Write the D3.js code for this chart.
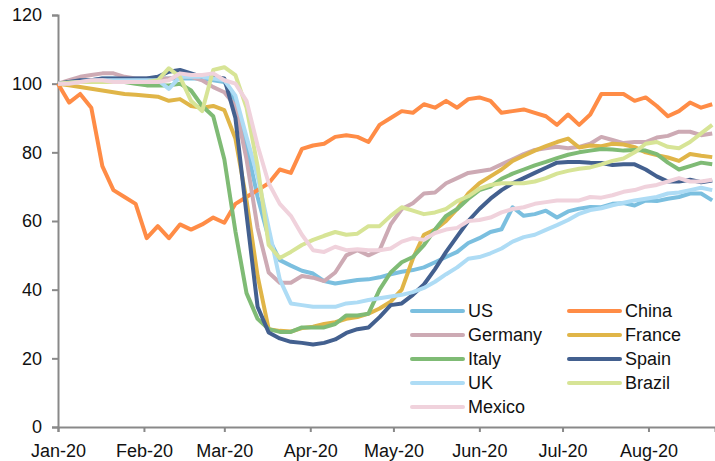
<!DOCTYPE html>
<html>
<head>
<meta charset="utf-8">
<script src="https://cdn.jsdelivr.net/npm/d3@7"></script>
<style>
  body { margin: 0; background: #fff; }
  svg { display: block; font-family: "Liberation Sans", Arial, sans-serif; }
</style>
</head>
<body>
<div id="chart-main"></div>
<script>
// Dates: one sample every 4 days from 1 Jan 2020 (60 samples, last = 24 Aug)
var startDate = new Date(2020, 0, 1),
    endDate = new Date(2020, 7, 25);
var dates = d3.timeDay.range(startDate, endDate, 4);

// Month tick labels
var monthTicks = ["Jan-20", "Feb-20", "Mar-20", "Apr-20", "May-20", "Jun-20", "Jul-20", "Aug-20"];
var yTicks = [0, 20, 40, 60, 80, 100, 120];

// Series names (legend / draw order)
var seriesNames = ["US", "China", "Germany", "France", "Italy", "Spain", "UK", "Brazil", "Mexico"];

// Values (index, 1 Jan 2020 = 100)
var us = [100, 100.5, 101, 101, 101.5, 101.5, 101.5, 101.5, 101.5, 101.5,
  101.5, 101.5, 101.5, 101.5, 101, 100.5, 95, 82, 67, 55,
  48.6, 47, 45.5, 44.7, 42.5, 41.8, 42.3, 42.8, 43, 43.6,
  44.5, 45.2, 45.7, 46.5, 48, 49.5, 51, 53.6, 55, 56.8,
  57.6, 64, 61.5, 62, 63, 61, 62.8, 63.6, 64.1, 64,
  65, 65.2, 64.5, 66, 65.8, 66.5, 67, 68, 68, 66];
var china = [100, 94.5, 97, 93, 76, 69, 67, 65, 55, 58.5,
  55, 59, 57.5, 59, 61, 59.5, 65, 67, 69, 71,
  75, 74, 81, 82, 82.5, 84.5, 85, 84.5, 83, 88,
  90, 92, 91.5, 94, 93, 95, 93, 95.5, 96, 95,
  91.5, 92, 92.5, 91.5, 90.5, 88, 91, 88, 91, 97,
  97, 97, 95, 96, 93.5, 90.5, 92, 94.5, 93, 94];
var germany = [100, 101, 102, 102.5, 103, 103, 102, 101.5, 101.5, 101.5,
  101.5, 102, 102, 101, 99, 97.5, 93.5, 78, 58, 45,
  42, 42, 44, 43.5, 42.5, 45, 50, 51.5, 50, 51.5,
  59, 63.5, 65.2, 68, 68.3, 71, 72.5, 74, 74.5, 75,
  76.5, 78, 79.5, 80.7, 81.2, 81.6, 81.2, 81.6, 82.5, 84.5,
  83.6, 82.7, 83, 83, 84.3, 84.8, 86, 86, 85, 85.5];
var france = [100, 99.5, 99, 98.5, 98, 97.5, 97, 96.8, 96.5, 96.2,
  95, 95.5, 93.5, 93, 93.5, 92.3, 84, 66, 44, 28.5,
  28, 27.8, 28.8, 29.2, 30, 30.5, 31.5, 32, 33, 34.5,
  36.5, 40, 49, 56, 57.5, 60, 63.5, 68, 71, 73,
  75, 77.5, 79, 80.5, 81.8, 83, 84, 81.4, 82, 81.8,
  82.5, 82.3, 81.5, 80, 79.2, 78.5, 77.5, 79.5, 79, 78.6];
var italy = [100, 100.5, 100.5, 100.5, 100.5, 100.5, 100.5, 100, 99.5, 99.5,
  99.5, 100, 98, 93.5, 90.5, 78, 57, 39, 31.5, 28.5,
  27.7, 27.7, 29, 29, 29, 30, 32.5, 32.5, 33, 40,
  45, 48, 49.5, 53, 57.5, 61.5, 63.5, 66.5, 69, 70,
  72.3, 73.8, 75, 76.2, 77.2, 78.3, 79.3, 80, 80.5, 81,
  80.8, 80.5, 80.7, 80.5, 79.5, 77, 75, 76, 77, 76.5];
var spain = [100, 100.5, 101, 101, 101.5, 101.5, 101.5, 101.5, 101.5, 102,
  103.5, 104, 103, 102, 102, 101.5, 90, 62, 35, 27.5,
  25.8, 24.8, 24.5, 24, 24.5, 25.5, 27.4, 28.5, 29, 32,
  35.5, 36, 38.5, 41.5, 46, 51, 55.5, 60, 63.5, 66.5,
  69, 71, 72.5, 74, 75.5, 77, 77.2, 77.2, 77, 76.9,
  76.3, 76.5, 76.5, 75, 73, 71.5, 71.5, 72, 71.3, 71.8];
var uk = [100, 100.3, 100.5, 100.8, 101, 101, 101, 101, 101, 101,
  98.5, 102, 102, 102, 101.5, 101, 96.5, 84.5, 73, 58,
  43, 36, 35.5, 35, 35, 35, 36, 36.3, 37, 37.5,
  38, 38.5, 39.3, 40.5, 42.3, 44.5, 46.5, 49, 49.5, 50.6,
  52, 54, 55.3, 56, 57.4, 58.8, 60.3, 62.1, 63.2, 63.7,
  64.6, 65.3, 66, 66.5, 67, 68, 68.3, 69, 69.7, 69];
var brazil = [100, 100.3, 100.5, 100.5, 100.5, 100.5, 100.5, 100.5, 100.5, 101,
  104.5, 102, 95, 92, 104, 104.8, 102.5, 93, 76, 53,
  49.2, 51, 53, 54.5, 55.7, 56.8, 56, 56.3, 58.5, 58.5,
  61.5, 64, 63, 62, 62.5, 63.5, 65.8, 67.2, 69.4, 70.5,
  71, 71, 71, 71.5, 72.5, 73.8, 74.6, 75.2, 75.6, 76.5,
  77.5, 78.2, 80, 82.5, 83, 81.6, 81.2, 83, 85.5, 88];
var mexico = [100, 100, 100.5, 101, 101, 100.5, 100.5, 100.5, 100.5, 100.5,
  101, 103, 102.5, 102.5, 103, 101, 100, 95, 82, 71,
  65, 61.5, 56, 51.5, 51, 52.5, 51.5, 51.8, 51.5, 51.5,
  52, 54, 55, 54.5, 56.5, 57.5, 58, 60, 60.3, 61,
  62.5, 63.5, 64, 65, 65.5, 66, 66, 66, 67, 66.8,
  67.5, 68.5, 69, 70, 70.5, 71.5, 72.5, 71.5, 71.5, 72];

var seriesValues = [us, china, germany, france, italy, spain, uk, brazil, mexico];
var seriesColors = ["#7bbfdf", "#ff8c46", "#cdaab4", "#e0b548", "#7fbb75",
                    "#43608f", "#aedcf5", "#d7e496", "#f0d2dc"];

// Size of the page and plot area
var width = 715, height = 461;
var margin = {top: 15, right: 0, bottom: 34, left: 58};

var svg = d3.select("#chart-main")
  .append("svg")
    .attr("width", width)
    .attr("height", height);

var x = d3.scaleTime()
  .domain([startDate, endDate])
  .range([margin.left, width - margin.right]);

var y = d3.scaleLinear()
  .domain([0, 120])
  .range([height - margin.bottom, margin.top]);

// Y axis
var yAxis = svg.append("g")
  .attr("transform", "translate(" + margin.left + ",0)")
  .call(d3.axisLeft(y).tickValues(yTicks).tickSize(6).tickPadding(10));

// X axis: one tick on the first of each month
var monthDates = d3.timeMonth.range(startDate, endDate);
var xAxis = svg.append("g")
  .attr("transform", "translate(0," + (height - margin.bottom) + ")")
  .call(d3.axisBottom(x)
    .tickValues(monthDates)
    .tickFormat(function(d, i) { return monthTicks[i]; })
    .tickSize(5)
    .tickPadding(12));

[xAxis, yAxis].forEach(function(a) {
  a.select(".domain").attr("stroke", "#898989").attr("stroke-width", 2);
  a.selectAll(".tick line").attr("stroke", "#898989").attr("stroke-width", 2);
  a.selectAll(".tick text")
    .attr("fill", "#111")
    .style("font-size", "18px")
    .style("font-family", "'Liberation Sans', Arial, sans-serif");
});

// Lines
var line = d3.line()
  .x(function(d, i) { return x(dates[i]); })
  .y(function(d) { return y(d); });

svg.append("g")
  .selectAll("path")
  .data(seriesValues)
  .enter()
  .append("path")
    .attr("d", line)
    .attr("fill", "none")
    .attr("stroke", function(d, i) { return seriesColors[i]; })
    .attr("stroke-width", 4)
    .attr("stroke-linejoin", "round")
    .attr("stroke-linecap", "butt");

// Legend: two columns, filled row by row
var legend = svg.append("g").attr("transform", "translate(410,311)");
var item = legend.selectAll("g")
  .data(seriesNames)
  .enter()
  .append("g")
    .attr("transform", function(d, i) {
      return "translate(" + ((i % 2) * 157) + "," + (Math.floor(i / 2) * 24) + ")";
    });

item.append("line")
  .attr("x1", 2).attr("x2", 53)
  .attr("stroke", function(d, i) { return seriesColors[i]; })
  .attr("stroke-width", 4)
  .attr("stroke-linecap", "round");

item.append("text")
  .attr("x", 58)
  .attr("dy", "0.36em")
  .attr("fill", "#111")
  .style("font-size", "18px")
  .text(function(d) { return d; });
</script>
</body>
</html>
